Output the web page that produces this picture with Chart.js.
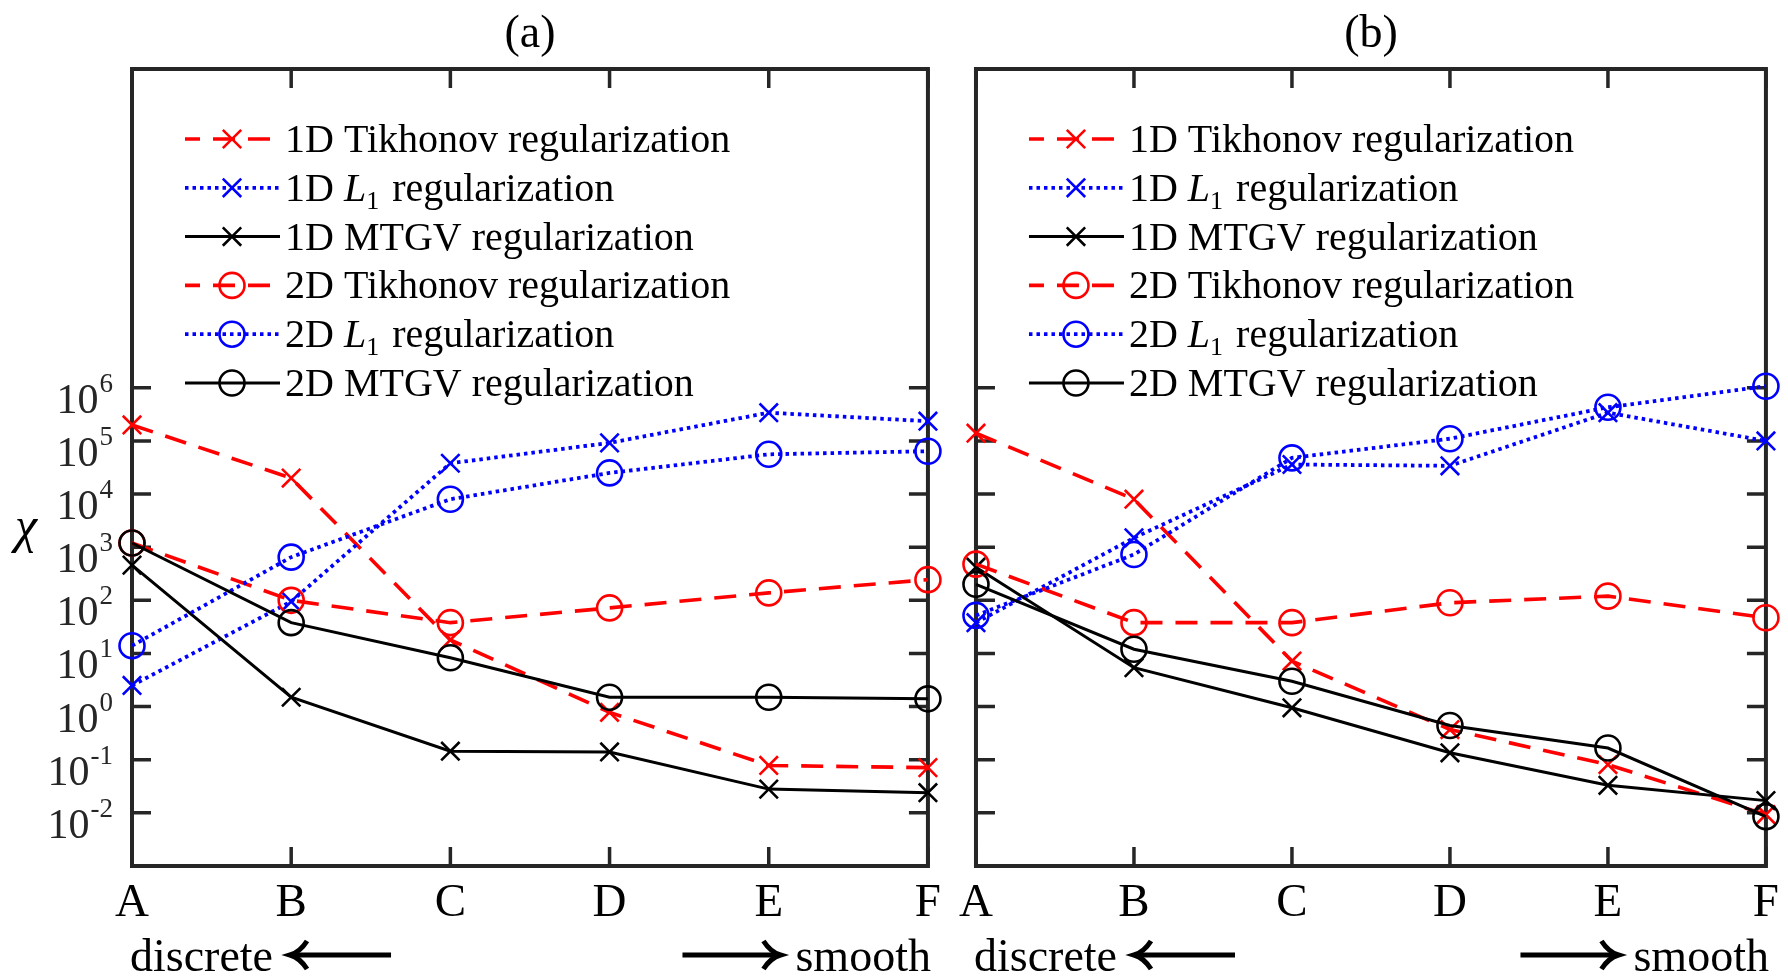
<!DOCTYPE html>
<html>
<head>
<meta charset="utf-8">
<script src="https://cdn.jsdelivr.net/npm/chart.js@4.4.1/dist/chart.umd.min.js"></script>
<style>
  html, body { margin: 0; padding: 0; background: #fff; }
  #wrap { position: relative; width: 1788px; height: 977px; overflow: hidden; background: #fff; }
  canvas { position: absolute; top: 0; }
</style>
</head>
<body>
<div id="wrap">
  <canvas id="chart-a" width="950" height="977" style="left:0"></canvas>
  <canvas id="chart-b" width="838" height="977" style="left:950px"></canvas>
</div>
<script>
const categories = ['A', 'B', 'C', 'D', 'E', 'F'];
const yTickExponents = [-2, -1, 0, 1, 2, 3, 4, 5, 6];

// panel (a)
const tik1D_a  = [2.0e5, 2.0e4, 18, 0.78, 0.078, 0.071];
const l1_1D_a  = [2.5, 95, 3.8e4, 9.2e4, 3.4e5, 2.35e5];
const mtgv1D_a = [460, 1.5, 0.145, 0.14, 0.028, 0.024];
const tik2D_a  = [1.2e3, 100, 38, 72, 138, 245];
const l1_2D_a  = [14, 650, 8.0e3, 2.5e4, 5.6e4, 6.4e4];
const mtgv2D_a = [1.2e3, 38, 8.3, 1.5, 1.5, 1.4];

// panel (b)
const tik1D_b  = [1.4e5, 8.0e3, 7.2, 0.37, 0.081, 0.0093];
const l1_1D_b  = [38, 1.5e3, 3.6e4, 3.4e4, 3.4e5, 1.0e5];
const mtgv1D_b = [420, 5.4, 0.95, 0.135, 0.033, 0.017];
const tik2D_b  = [480, 38, 38, 90, 120, 47];
const l1_2D_b  = [52, 730, 4.8e4, 1.1e5, 4.3e5, 1.07e6];
const mtgv2D_b = [200, 12, 3.0, 0.44, 0.166, 0.0085];

const seriesLabels = [
  '1D Tikhonov regularization',
  '1D L1 regularization',
  '1D MTGV regularization',
  '2D Tikhonov regularization',
  '2D L1 regularization',
  '2D MTGV regularization'
];
const seriesColors = ['#ff0000', '#0000ff', '#000000', '#ff0000', '#0000ff', '#000000'];
const seriesDash = [[22, 13], [3.5, 4], [], [22, 13], [3.5, 4], []];
const seriesWidth = [3.6, 3.8, 3, 3.6, 3.8, 3];
const seriesMarker = ['crossRot', 'crossRot', 'crossRot', 'circle', 'circle', 'circle'];

const FONT = '"Liberation Serif", "Times New Roman", serif';
const AXIS = '#262626';

function drawMarker(ctx, style, x, y, r) {
  ctx.beginPath();
  if (style === 'circle') {
    ctx.arc(x, y, r, 0, Math.PI * 2);
  } else {
    const d = r * Math.SQRT1_2;
    ctx.moveTo(x - d, y - d); ctx.lineTo(x + d, y + d);
    ctx.moveTo(x + d, y - d); ctx.lineTo(x - d, y + d);
  }
  ctx.stroke();
}

function drawLabel(ctx, text, x, y) {
  const parts = text.split('L1');
  ctx.font = `40px ${FONT}`;
  if (parts.length === 1) { ctx.fillText(text, x, y); return; }
  ctx.fillText(parts[0], x, y);
  x += ctx.measureText(parts[0]).width;
  ctx.font = `italic 40px ${FONT}`;
  ctx.fillText('L', x, y);
  x += ctx.measureText('L').width;
  ctx.font = `26px ${FONT}`;
  ctx.fillText('1', x, y + 8);
  x += ctx.measureText('1').width + 3;
  ctx.font = `40px ${FONT}`;
  ctx.fillText(parts[1], x, y);
}

function drawArrow(ctx, x0, x1, y, dir) {
  const tip = dir === 'left' ? x0 : x1;
  const s = dir === 'left' ? 1 : -1;
  ctx.beginPath();
  ctx.moveTo(x0 + (dir === 'left' ? 3 : 0), y); ctx.lineTo(x1 - (dir === 'left' ? 0 : 3), y);
  ctx.stroke();
  ctx.beginPath();
  ctx.moveTo(tip + s * 17, y - 14);
  ctx.quadraticCurveTo(tip + s * 10, y - 3, tip, y);
  ctx.quadraticCurveTo(tip + s * 10, y + 3, tip + s * 17, y + 14);
  ctx.stroke();
}

const decor = {
  id: 'decor',
  beforeDatasetsDraw(chart, args, opts) {
    const { ctx, chartArea: a } = chart;
    const xs = chart.scales.x, ys = chart.scales.y;
    const tl = 19;
    ctx.save();
    ctx.strokeStyle = AXIS;
    ctx.lineWidth = 3.5;
    ctx.beginPath();
    ys.ticks.forEach(t => {
      const py = ys.getPixelForValue(t.value);
      ctx.moveTo(a.left, py); ctx.lineTo(a.left + tl, py);
      ctx.moveTo(a.right, py); ctx.lineTo(a.right - tl, py);
    });
    xs.ticks.forEach((t, i) => {
      const px = xs.getPixelForTick(i);
      ctx.moveTo(px, a.bottom); ctx.lineTo(px, a.bottom - tl);
      ctx.moveTo(px, a.top); ctx.lineTo(px, a.top + tl);
    });
    ctx.stroke();
    ctx.lineWidth = 4;
    ctx.strokeRect(a.left, a.top, a.right - a.left, a.bottom - a.top);
    ctx.restore();
  },
  afterDraw(chart, args, opts) {
    const { ctx, chartArea: a } = chart;
    const ys = chart.scales.y;
    ctx.save();
    ctx.fillStyle = '#000';
    ctx.textBaseline = 'alphabetic';

    // panel title
    ctx.font = `46px ${FONT}`;
    ctx.textAlign = 'center';
    ctx.fillText(opts.title, (a.left + a.right) / 2, 47);

    // y tick labels 10^k
    if (opts.yLabels) {
      ctx.fillStyle = AXIS;
      ys.ticks.forEach(t => {
        const py = ys.getPixelForValue(t.value);
        const exp = String(Math.round(Math.log10(t.value)));
        const right = a.left - 19;
        ctx.font = `27px ${FONT}`;
        const w = ctx.measureText(exp).width;
        ctx.textAlign = 'left';
        ctx.fillText(exp, right - w, py + 4);
        ctx.font = `42px ${FONT}`;
        ctx.textAlign = 'right';
        ctx.fillText('10', right - w - 1, py + 25);
      });
      ctx.fillStyle = '#000';
      ctx.font = `italic 50px ${FONT}`;
      ctx.textAlign = 'center';
      ctx.fillText('\u03C7', 26, 542);
    }

    // legend
    chart.data.datasets.forEach((ds, i) => {
      const y = a.top + 70 + i * 48.8;
      ctx.save();
      ctx.strokeStyle = ds.borderColor;
      ctx.lineWidth = ds.borderWidth;
      ctx.setLineDash(ds.borderDash);
      ctx.lineDashOffset = ds.borderDash.length && ds.borderDash[0] > 10 ? 7 : 0;
      ctx.beginPath();
      ctx.moveTo(a.left + 53, y); ctx.lineTo(a.left + 148, y);
      ctx.stroke();
      ctx.setLineDash([]);
      ctx.lineWidth = ds.pointBorderWidth;
      drawMarker(ctx, ds.pointStyle, a.left + 100, y, ds.pointRadius);
      ctx.restore();
      ctx.textAlign = 'left';
      ctx.fillStyle = '#000';
      drawLabel(ctx, ds.label, a.left + 153, y + 13);
    });

    // discrete <-    -> smooth
    ctx.font = `46px ${FONT}`;
    ctx.fillStyle = '#000';
    ctx.strokeStyle = '#000';
    ctx.lineWidth = 5;
    ctx.lineCap = 'butt';
    ctx.textAlign = 'left';
    const dx = a.left - 2;
    ctx.fillText('discrete', dx, 971);
    const dw = ctx.measureText('discrete').width;
    drawArrow(ctx, dx + dw + 17, dx + dw + 118, 955, 'left');
    ctx.textAlign = 'right';
    const sx = a.right + 3;
    ctx.fillText('smooth', sx, 971);
    const sw = ctx.measureText('smooth').width;
    drawArrow(ctx, sx - sw - 113, sx - sw - 15, 955, 'right');
    ctx.restore();
  }
};

function makeDatasets(values) {
  return values.map((v, i) => ({
    label: seriesLabels[i],
    data: v,
    borderColor: seriesColors[i],
    borderWidth: seriesWidth[i],
    borderDash: seriesDash[i],
    pointStyle: seriesMarker[i],
    pointRadius: seriesMarker[i] === 'circle' ? 12.5 : 13,
    pointHoverRadius: seriesMarker[i] === 'circle' ? 12.5 : 13,
    pointBorderWidth: 2.6,
    pointBorderColor: seriesColors[i],
    pointBackgroundColor: 'rgba(0,0,0,0)',
    fill: false,
    tension: 0,
    clip: false,
    order: 5 - i
  }));
}

function makeChart(id, values, cfg) {
  return new Chart(document.getElementById(id), {
    type: 'line',
    data: { labels: categories, datasets: makeDatasets(values) },
    plugins: [decor],
    options: {
      responsive: false,
      animation: false,
      events: [],
      layout: { autoPadding: false, padding: { top: 69, right: cfg.padRight, left: 0, bottom: 0 } },
      plugins: {
        legend: { display: false },
        title: { display: false },
        tooltip: { enabled: false },
        decor: { title: cfg.title, yLabels: cfg.yLabels }
      },
      scales: {
        x: {
          type: 'category',
          offset: false,
          grid: { display: false, drawTicks: false },
          border: { display: false },
          ticks: {
            color: '#000',
            font: { family: FONT, size: 47 },
            padding: 9,
            maxRotation: 0,
            autoSkip: false
          },
          afterFit: s => { s.height = 111; }
        },
        y: {
          type: 'logarithmic',
          min: 1e-3,
          max: 1e12,
          grid: { display: false, drawTicks: false },
          border: { display: false },
          ticks: { display: false },
          afterBuildTicks: s => { s.ticks = yTickExponents.map(k => ({ value: Math.pow(10, k) })); },
          afterFit: s => { s.width = cfg.yWidth; }
        }
      }
    }
  });
}

makeChart('chart-a', [tik1D_a, l1_1D_a, mtgv1D_a, tik2D_a, l1_2D_a, mtgv2D_a],
  { title: '(a)', yWidth: 132, padRight: 21, yLabels: true });
makeChart('chart-b', [tik1D_b, l1_1D_b, mtgv1D_b, tik2D_b, l1_2D_b, mtgv2D_b],
  { title: '(b)', yWidth: 24, padRight: 16, yLabels: false });
</script>
</body>
</html>
